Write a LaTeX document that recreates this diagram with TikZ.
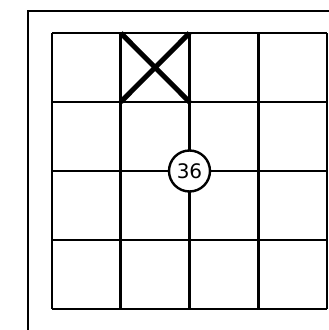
\documentclass[tikz,border=0pt]{standalone}
\usepackage{fontspec}
\setmainfont{DejaVu Sans}
\begin{document}
\begin{tikzpicture}[x=1pt,y=1pt,
  frameline/.style={line width=2.6pt},
  gridline/.style={line width=2.6pt},
  crossline/.style={line width=5pt},
  numcircle/.style={circle,draw,fill=white,line width=2.4pt,minimum size=41pt,inner sep=0pt,font=\fontsize{20}{20}\selectfont}]
\useasboundingbox (0,0) rectangle (329,330);
\clip (0,0) rectangle (329,330);
% outer frame (runs off the page at right and bottom)
\draw[frameline] (28,-10) -- (28,319) -- (345,319);
% grid
\foreach \i in {0,...,4} {
  \draw[gridline] ({52+68.75*\i},21) -- ({52+68.75*\i},297);
  \draw[gridline] (52,{21+69*\i}) -- (327,{21+69*\i});
}
% cross
\draw[crossline] (120.75,297) -- (189.5,228);
\draw[crossline] (189.5,297) -- (120.75,228);
% number
\node[numcircle] (n36) at (189.5,159) {36};
\end{tikzpicture}
\end{document}
